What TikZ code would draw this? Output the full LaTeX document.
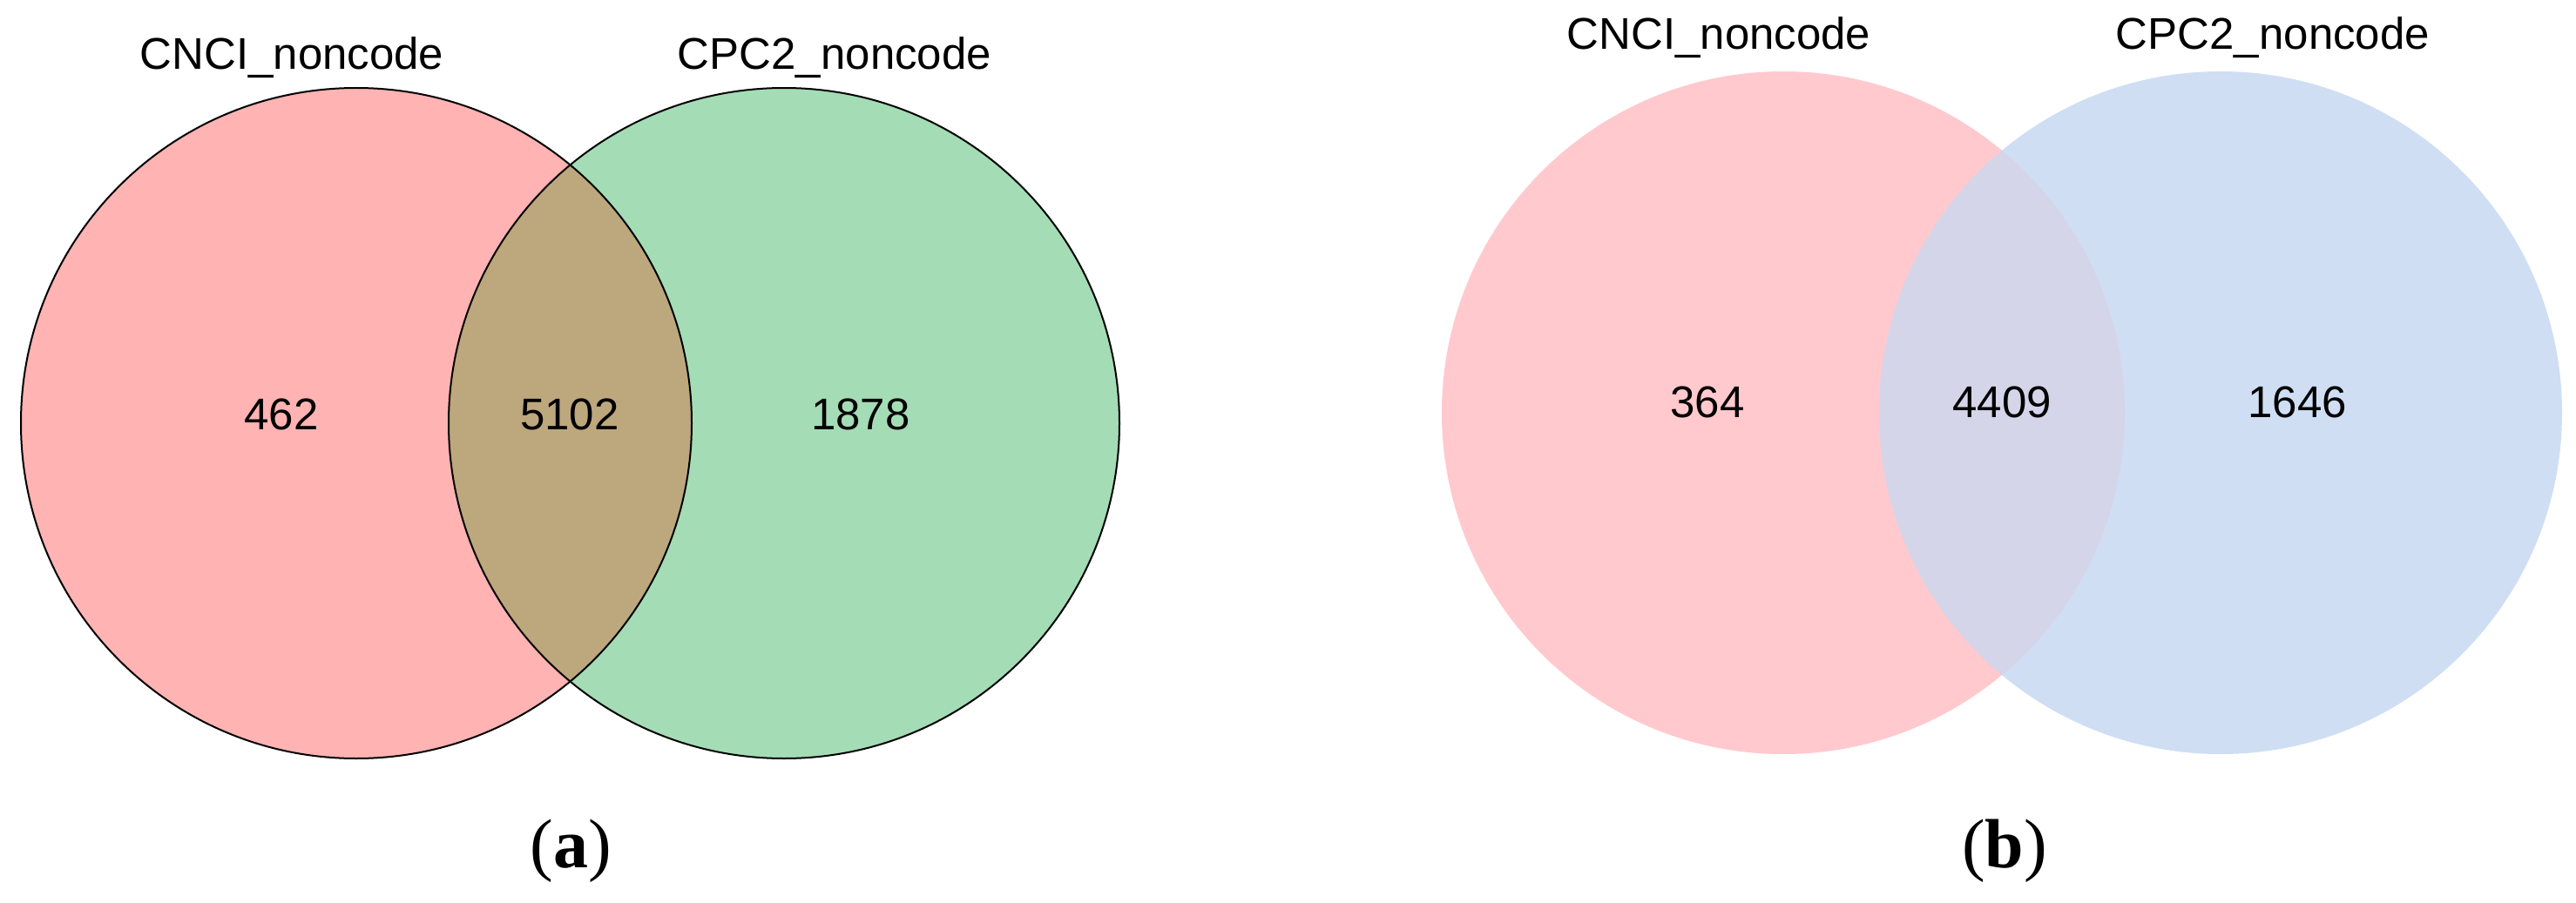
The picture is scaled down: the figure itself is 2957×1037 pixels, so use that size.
\documentclass[tikz,border=0pt]{standalone}
\usepackage{fontspec}
\setmainfont{Liberation Sans}
\newfontfamily\capfont{Liberation Serif}
\definecolor{redA}{RGB}{255,179,179}
\definecolor{greenB}{RGB}{164,220,182}
\definecolor{lensAB}{RGB}{189,167,125}
\definecolor{pinkC}{RGB}{255,201,206}
\definecolor{blueD}{RGB}{207,222,243}
\definecolor{lensCD}{RGB}{212,213,233}
\begin{document}
\begin{tikzpicture}[x=0.25pt,y=-0.25pt,
  lab/.style={anchor=base,inner sep=0pt,font=\fontsize{12.75}{15}\selectfont},
  captxt/.style={anchor=base,inner sep=0pt,font=\capfont\fontsize{20}{24}\selectfont},
  rim/.style={draw=black,line width=0.5pt}]
\useasboundingbox (0,0) rectangle (2957,1037);
\fill[white] (0,0) rectangle (2957,1037);
% ---------- panel (a)
\coordinate (cA) at (409,486);
\coordinate (cB) at (900,486);
\fill[redA] (cA) circle[radius=385];
\fill[greenB] (cB) circle[radius=385];
\begin{scope}
  \clip (cA) circle[radius=385];
  \fill[lensAB] (cB) circle[radius=385];
\end{scope}
\draw[rim] (cA) circle[radius=385];
\draw[rim] (cB) circle[radius=385];
\node[lab] (labA) at (335,80) {CNCI\_noncode};
\node[lab] (labB) at (958,80) {CPC2\_noncode};
\node[lab] (nA) at (323,493) {462};
\node[lab] (nAB) at (654,493) {5102};
\node[lab] (nB) at (988,493) {1878};
\node[captxt] (capa) at (655,996) {(\textbf{a})};
% ---------- panel (b)
\coordinate (cC) at (2047,474);
\coordinate (cD) at (2549,474);
\fill[pinkC] (cC) circle[radius=392];
\fill[blueD] (cD) circle[radius=392];
\begin{scope}
  \clip (cC) circle[radius=392];
  \fill[lensCD] (cD) circle[radius=392];
\end{scope}
\node[lab] (labC) at (1973,57) {CNCI\_noncode};
\node[lab] (labD) at (2609,57) {CPC2\_noncode};
\node[lab] (nC) at (1960,479) {364};
\node[lab] (nCD) at (2298,479) {4409};
\node[lab] (nD) at (2637,479) {1646};
\node[captxt] (capb) at (2301,996) {(\textbf{b})};
\end{tikzpicture}
\end{document}
